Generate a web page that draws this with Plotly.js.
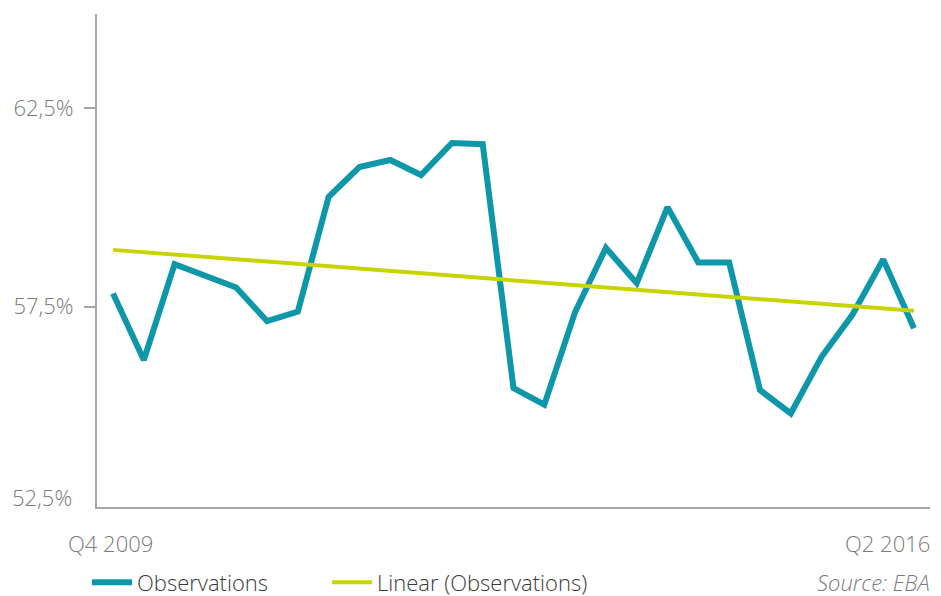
<!DOCTYPE html>
<html>
<head>
<meta charset="utf-8">
<script src="https://cdn.plot.ly/plotly-3.0.1.min.js"></script>
<style>
html,body{margin:0;padding:0;background:#fff;}
#chart{width:941px;height:596px;}
</style>
</head>
<body>
<div id="chart"></div>
<script>
// Quarters Q4 2009 .. Q2 2016
const quarters = ["Q4 2009","Q1 2010","Q2 2010","Q3 2010","Q4 2010","Q1 2011","Q2 2011","Q3 2011","Q4 2011",
  "Q1 2012","Q2 2012","Q3 2012","Q4 2012","Q1 2013","Q2 2013","Q3 2013","Q4 2013",
  "Q1 2014","Q2 2014","Q3 2014","Q4 2014","Q1 2015","Q2 2015","Q3 2015","Q4 2015","Q1 2016","Q2 2016"];
const observations = [57.83,56.15,58.57,58.27,57.98,57.13,57.37,60.27,61.02,61.20,60.82,61.63,61.60,
  55.44,55.02,57.36,58.98,58.09,60.01,58.61,58.61,55.39,54.80,56.23,57.29,58.69,56.95];
const trendX = ["Q4 2009","Q2 2016"];
const trendValues = [58.93,57.39];
const yTickVals = [57.5,62.5];
const yTickText = ["57,5%","62,5%"];
const bottomTickLabel = "52,5%";
const xLabels = ["Q4 2009","Q2 2016"];
const sourceText = "Source: EBA";

const idx = quarters.map((q,i)=>i);
const trendIdx = trendX.map(q=>quarters.indexOf(q));

const gray = '#7a7a7a';
const fontFam = '"Open Sans", "Noto Sans", sans-serif';
const FS = 22;
const legendFont = {family:fontFam, size:22, color:'#3a3a3a', weight:300};

const traces = [
  {x: idx, y: observations, type:'scatter', mode:'lines', name:'Observations',
   line:{color:'#0e97a8', width:6, shape:'linear'}, hoverinfo:'skip', legend:'legend'},
  {x: trendIdx, y: trendValues, type:'scatter', mode:'lines', name:'Linear (Observations)',
   line:{color:'#c8d400', width:4}, hoverinfo:'skip', legend:'legend2'}
];

const layout = {
  width:941, height:596,
  margin:{l:97, r:11, t:14, b:89, pad:0, autoexpand:false},
  paper_bgcolor:'#fff', plot_bgcolor:'#fff',
  font:{family:fontFam, color:gray, size:FS, weight:300},
  showlegend:true,
  legend:{orientation:'h', x:-0.012, xanchor:'left', y:-0.153, yanchor:'middle',
    font:legendFont, itemwidth:40, bgcolor:'rgba(0,0,0,0)'},
  legend2:{orientation:'h', x:0.276, xanchor:'left', y:-0.153, yanchor:'middle',
    font:legendFont, itemwidth:40, bgcolor:'rgba(0,0,0,0)'},
  xaxis:{range:[-0.52,26.52], showgrid:false, zeroline:false, showticklabels:false,
    ticks:'', showline:true, linecolor:'#a6a6a6', linewidth:2, fixedrange:true},
  yaxis:{range:[52.437,64.886], showgrid:false, zeroline:false,
    tickmode:'array', tickvals:yTickVals, ticktext:yTickText,
    ticks:'outside', ticklen:11, tickwidth:2, tickcolor:'#a6a6a6',
    showline:true, linecolor:'#a6a6a6', linewidth:2,
    tickfont:{family:fontFam, size:FS, color:gray, weight:300},
    ticklabelstandoff:6, fixedrange:true},
  annotations:[
    {text:bottomTickLabel, xref:'paper', yref:'paper', x:0, y:0, xanchor:'right', yanchor:'middle',
     xshift:-23, yshift:10, showarrow:false, font:{family:fontFam, size:FS, color:gray, weight:300}},
    {text:xLabels[0], xref:'x', yref:'paper', x:quarters.indexOf(xLabels[0]), y:0, xanchor:'center', yanchor:'middle',
     xshift:-3, yshift:-36, showarrow:false, font:{family:fontFam, size:FS, color:gray, weight:300}},
    {text:xLabels[1], xref:'paper', yref:'paper', x:1, y:0, xanchor:'right', yanchor:'middle',
     xshift:2, yshift:-36, showarrow:false, font:{family:fontFam, size:FS, color:gray, weight:300}},
    {text:'<i>'+sourceText+'</i>', xref:'paper', yref:'paper', x:1, y:0, xanchor:'right', yanchor:'middle',
     xshift:2, yshift:-75, showarrow:false, font:{family:fontFam, size:FS, color:gray, weight:300}}
  ]
};

Plotly.newPlot('chart', traces, layout, {displayModeBar:false, staticPlot:true});
</script>
</body>
</html>
